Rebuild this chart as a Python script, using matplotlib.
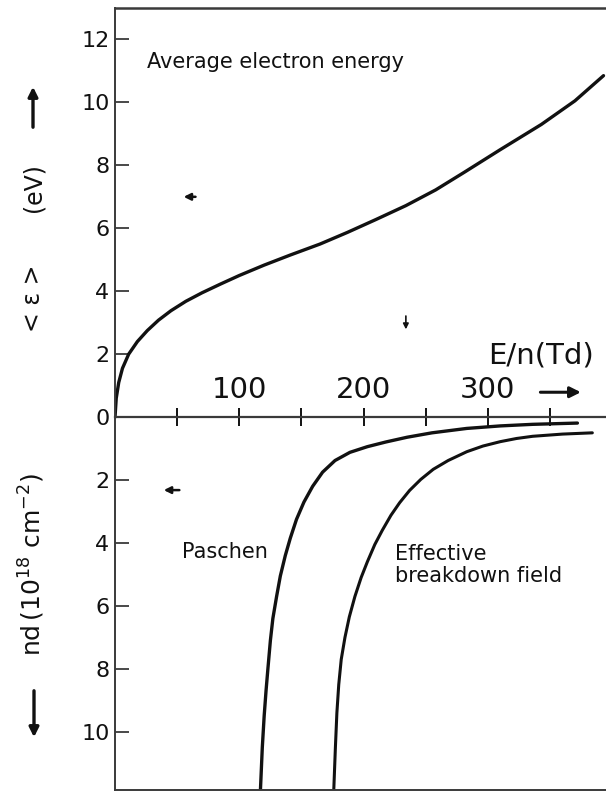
import matplotlib
matplotlib.use("Agg")
import matplotlib.pyplot as plt
from matplotlib.patches import FancyArrowPatch
from matplotlib.ticker import FixedLocator, FuncFormatter

# Average electron energy <eps> (eV) versus reduced field E/n (Td)
en_energy = [0, 1, 3, 6, 11, 18, 26, 35, 45, 57, 70, 85, 100, 120, 141,
             165, 187, 210, 234, 258, 281, 310, 343, 370, 393]
mean_energy = [0, 0.6, 1.1, 1.55, 2.0, 2.4, 2.75, 3.08, 3.38, 3.68, 3.95,
               4.23, 4.5, 4.83, 5.15, 5.5, 5.87, 6.28, 6.72, 7.22, 7.78,
               8.5, 9.3, 10.05, 10.85]

# Breakdown product nd (1e18 cm^-2) versus E/n (Td)
en_paschen = [117, 118.5, 120, 121.5, 123, 125, 127, 130, 133, 137, 141, 146,
              152, 159, 167, 177, 189, 203, 218, 235, 255, 283, 310, 336, 372]
nd_paschen = [11.85, 10.5, 9.5, 8.7, 8.0, 7.1, 6.4, 5.7, 5.05, 4.4, 3.85,
              3.25, 2.7, 2.2, 1.75, 1.38, 1.12, 0.94, 0.79, 0.64, 0.5, 0.36,
              0.28, 0.23, 0.19]

en_effective = [176, 177.3, 178.5, 180, 182, 185, 188.5, 193, 198, 203, 209,
                215, 222, 229, 237, 246, 256, 268, 283, 296, 310, 323, 336,
                360, 384]
nd_effective = [11.85, 10.5, 9.4, 8.5, 7.7, 7.0, 6.35, 5.7, 5.1, 4.6, 4.05,
                3.6, 3.12, 2.72, 2.33, 1.98, 1.66, 1.38, 1.1, 0.92, 0.78,
                0.68, 0.61, 0.54, 0.5]

energy_ticks = [0, 2, 4, 6, 8, 10, 12]
nd_ticks = [2, 4, 6, 8, 10]
en_major = [100, 200, 300]
en_minor = [50, 150, 250, 350]

INK = "#111111"
FRAME = "#3a3a3a"

fig = plt.figure(figsize=(6.06, 7.92), dpi=100)
ax = fig.add_axes([115 / 606, 2 / 792, 491 / 606, 782 / 792])

ax.plot(en_energy, mean_energy, color=INK, lw=2.4, solid_capstyle="round",
        solid_joinstyle="round")
ax.plot(en_paschen, [-v for v in nd_paschen], color=INK, lw=2.4,
        solid_capstyle="round", solid_joinstyle="round")
ax.plot(en_effective, [-v for v in nd_effective], color=INK, lw=2.2,
        solid_capstyle="round", solid_joinstyle="round")

ax.set_xlim(0, 395)
ax.set_ylim(-11.85, 13.0)

# frame: left and bottom spines, top edge line, E/n axis along zero
for side in ("left", "bottom"):
    ax.spines[side].set_color(FRAME)
    ax.spines[side].set_linewidth(1.4)
ax.spines["right"].set_visible(False)
ax.spines["top"].set_position(("data", 0))
ax.spines["top"].set_color(FRAME)
ax.spines["top"].set_linewidth(1.6)
ax.axhline(13.0, color=FRAME, lw=1.8, clip_on=False)

# y ticks: energy above zero, nd (drawn downward) below zero
yt = [-v for v in nd_ticks[::-1]] + energy_ticks
ax.yaxis.set_major_locator(FixedLocator(yt))
ax.yaxis.set_major_formatter(FuncFormatter(lambda v, p: f"{abs(v):.0f}"))
ax.tick_params(axis="y", direction="in", length=10, width=1.3, color=FRAME,
               labelsize=16, pad=4, labelcolor=INK)

# x ticks on the zero line, labels above it
ax.xaxis.set_ticks_position("top")
ax.xaxis.set_major_locator(FixedLocator(en_major))
ax.xaxis.set_minor_locator(FixedLocator(en_minor))
ax.tick_params(axis="x", which="both", direction="inout", length=13,
               width=1.4, color=INK, top=True, bottom=False,
               labeltop=True, labelbottom=False)
ax.tick_params(axis="x", which="major", labelsize=21, pad=3, labelcolor=INK)

# annotations inside the plot
ax.text(25.7, 11.28, "Average electron energy", fontsize=15, color=INK,
        ha="left", va="center")
ax.text(300, 1.97, "E/n(Td)", fontsize=21, color=INK, ha="left", va="center")
ax.annotate("", xy=(377, 0.79), xytext=(340, 0.79),
            arrowprops=dict(arrowstyle="-|>", color=INK, lw=2.2,
                            mutation_scale=16))
ax.text(54, -4.29, "Paschen", fontsize=15, color=INK, ha="left",
        va="center")
ax.text(225, -4.7, "Effective\nbreakdown field", fontsize=15, color=INK,
        ha="left", va="center", linespacing=1.1)

# small pointers showing which axis each curve belongs to
ax.annotate("", xy=(53, 7.0), xytext=(67, 7.0),
            arrowprops=dict(arrowstyle="-|>", color=INK, lw=1.8,
                            mutation_scale=10))
ax.annotate("", xy=(37, -2.32), xytext=(54, -2.32),
            arrowprops=dict(arrowstyle="-|>", color=INK, lw=1.8,
                            mutation_scale=10))
ax.annotate("", xy=(234, 2.7), xytext=(234, 3.3),
            arrowprops=dict(arrowstyle="-|>", color=INK, lw=1.2,
                            mutation_scale=8))

# axis titles along the left edge
fig.text(33 / 606, 1 - 298 / 792, "< ε >", rotation=90, fontsize=17,
         color=INK, ha="center", va="center")
fig.text(33 / 606, 1 - 188 / 792, "(eV)", rotation=90, fontsize=17,
         color=INK, ha="center", va="center")
fig.add_artist(FancyArrowPatch(
    (33 / 606, 1 - 130 / 792), (33 / 606, 1 - 84 / 792),
    transform=fig.transFigure, arrowstyle="-|>", color=INK, lw=2.4,
    mutation_scale=14))

fig.text(32 / 606, 1 - 565 / 792, r"nd$\,$(10$^{18}$ cm$^{-2}$)",
         rotation=90, fontsize=18, color=INK, ha="center", va="center")
fig.add_artist(FancyArrowPatch(
    (34 / 606, 1 - 688 / 792), (34 / 606, 1 - 740 / 792),
    transform=fig.transFigure, arrowstyle="-|>", color=INK, lw=2.4,
    mutation_scale=14))

fig.savefig("out.png", dpi=100)
